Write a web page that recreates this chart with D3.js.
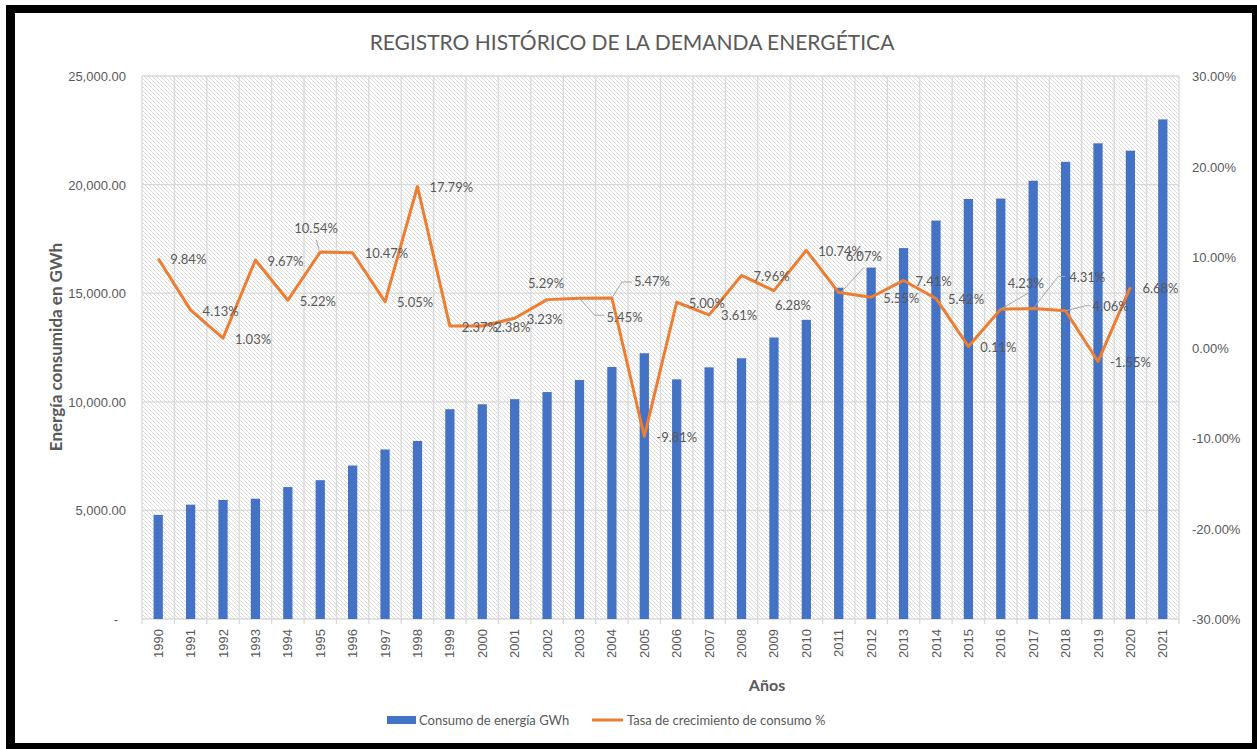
<!DOCTYPE html>
<html>
<head>
<meta charset="utf-8">
<script src="https://cdn.jsdelivr.net/npm/d3@7"></script>
<style>
  body { margin: 0; background: #fff; }
  svg { display: block; font-family: Lato, "Open Sans", sans-serif; }
</style>
</head>
<body>
<div id="chart"></div>
<script>
// Energy demand: bars = consumption (GWh), line = growth rate (%)
const years = ['1990','1991','1992','1993','1994','1995','1996','1997','1998','1999',
  '2000','2001','2002','2003','2004','2005','2006','2007','2008','2009',
  '2010','2011','2012','2013','2014','2015','2016','2017','2018','2019','2020','2021'];

const consumo = [4793, 5264, 5482, 5538, 6074, 6391, 7065, 7805, 8198, 9657,
  9886, 10121, 10449, 11002, 11601, 12235, 11035, 11587, 12005, 12960,
  13774, 15253, 16179, 17077, 18343, 19337, 19358, 20177, 21047, 21901, 21561, 23001];

// growth rate, one value per year from 1990 to 2020
const tasa = [9.84, 4.13, 1.03, 9.67, 5.22, 10.54, 10.47, 5.05, 17.79, 2.37,
  2.38, 3.23, 5.29, 5.45, 5.47, -9.81, 5.00, 3.61, 7.96, 6.28,
  10.74, 6.07, 5.55, 7.41, 5.42, 0.11, 4.23, 4.31, 4.06, -1.55, 6.68];

const leftTicks = [0, 5000, 10000, 15000, 20000, 25000];
const rightTicks = [-0.3, -0.2, -0.1, 0, 0.1, 0.2, 0.3];

const W = 1257, H = 749;
const plot = { left: 142, right: 1179, top: 76, bottom: 619 };
const textColor = '#595959';
const gridColor = '#D9D9D9';

const svg = d3.select('#chart').append('svg')
  .attr('width', W).attr('height', H);

// hatched plot background
const defs = svg.append('defs');
const pat = defs.append('pattern')
  .attr('id', 'hatch')
  .attr('patternUnits', 'userSpaceOnUse')
  .attr('width', 4).attr('height', 4);
pat.append('rect').attr('width', 4).attr('height', 4).attr('fill', '#fff');
pat.append('path')
  .attr('d', 'M-1,-1 L5,5 M-1,3 L1,5 M3,-1 L5,1')
  .attr('stroke', '#DADADA').attr('stroke-width', 1);

// frame
svg.append('rect').attr('width', W).attr('height', H).attr('fill', '#fff');
svg.append('rect').attr('x', 6).attr('y', 5).attr('width', W - 6).attr('height', H - 5).attr('fill', '#000');
svg.append('rect').attr('x', 15).attr('y', 13).attr('width', 1252 - 15).attr('height', 743 - 13).attr('fill', '#fff');

const x = d3.scaleBand().domain(years).range([plot.left, plot.right]).padding(0);
const yL = d3.scaleLinear().domain([0, 25000]).range([plot.bottom, plot.top]);
const yR = d3.scaleLinear().domain([-0.3, 0.3]).range([plot.bottom, plot.top]);

const locale = d3.formatLocale({ decimal: '.', thousands: ',', grouping: [3], currency: ['', ''], minus: '-' });
const fmtL = locale.format(',.2f');
const fmtPct = locale.format('.2%');

svg.append('rect')
  .attr('x', plot.left).attr('y', plot.top)
  .attr('width', plot.right - plot.left).attr('height', plot.bottom - plot.top)
  .attr('fill', 'url(#hatch)');

// gridlines
const grid = svg.append('g').attr('stroke', gridColor).attr('stroke-width', 1.3);
grid.selectAll('.hg').data(leftTicks).enter().append('line')
  .attr('x1', plot.left).attr('x2', plot.right)
  .attr('y1', d => yL(d)).attr('y2', d => yL(d));
const bounds = years.map(d => x(d)).concat([plot.right]);
grid.selectAll('.vg').data(bounds).enter().append('line')
  .attr('x1', d => d).attr('x2', d => d)
  .attr('y1', plot.top).attr('y2', plot.bottom + 5);

// left axis
const axL = svg.append('g')
  .attr('transform', `translate(${plot.left - 16},0)`)
  .call(d3.axisLeft(yL).tickValues(leftTicks).tickSize(0).tickPadding(0)
    .tickFormat(d => d === 0 ? '-' : fmtL(d)));
axL.select('.domain').remove();
axL.selectAll('text').attr('fill', textColor).style('font-size', '13px')
  .attr('dx', d => d === 0 ? -8 : 0).attr('dy', '0.35em');

// right axis
const axR = svg.append('g')
  .attr('transform', `translate(${plot.right + 13},0)`)
  .call(d3.axisRight(yR).tickValues(rightTicks).tickSize(0).tickPadding(0).tickFormat(fmtPct));
axR.select('.domain').remove();
axR.selectAll('text').attr('fill', textColor).style('font-size', '13px').attr('dy', '0.35em');

// bottom axis labels
const axB = svg.append('g')
  .attr('transform', `translate(0,${plot.bottom})`)
  .call(d3.axisBottom(x).tickSize(0).tickPadding(0));
axB.select('.domain').remove();
axB.selectAll('text')
  .attr('fill', textColor).style('font-size', '13px')
  .attr('text-anchor', 'end')
  .attr('transform', 'translate(0,10) rotate(-90)')
  .attr('x', 0).attr('y', 0).attr('dy', '0.35em');

// bars
const barW = x.bandwidth() / 3.5;
svg.append('g').selectAll('rect').data(consumo).enter().append('rect')
  .attr('x', (d, i) => x(years[i]) + x.bandwidth() / 2 - barW / 2)
  .attr('y', d => yL(d))
  .attr('width', barW)
  .attr('height', d => yL(0) - yL(d))
  .attr('fill', '#4472C4');

// growth line
const cx = i => x(years[i]) + x.bandwidth() / 2;
const line = d3.line().x((d, i) => cx(i)).y(d => yR(d / 100));
svg.append('path').datum(tasa)
  .attr('d', line)
  .attr('fill', 'none')
  .attr('stroke', '#ED7D31')
  .attr('stroke-width', 3)
  .attr('stroke-linejoin', 'round');

// data labels: default to the right of the point, a few moved by hand
const nudge = {
  '1995': { dx: -26, dy: -24, leader: [[-1, -2], [-4, -12]] },
  '2002': { dx: -19, dy: -16 },
  '2003': { dx: 27, dy: 19, leader: [[0, 0], [15, 17], [25, 17]] },
  '2004': { dx: 22, dy: -17, leader: [[0, 0], [10, -16], [20, -16]] },
  '2009': { dx: 1, dy: 15 },
  '2011': { dx: 7, dy: -36, leader: [[3, -1], [25, -25]] },
  '2016': { dx: 7, dy: -26, leader: [[0, 0], [27, -16]] },
  '2017': { dx: 36, dy: -31, leader: [[0, 0], [25, -32], [32, -32]] },
  '2018': { dx: 27, dy: -4, leader: [[0, 0], [20, -5], [25, -5]] }
};

const labels = svg.append('g');
tasa.forEach((d, i) => {
  const px = cx(i), py = yR(d / 100);
  const n = nudge[years[i]] || { dx: 12, dy: 1 };
  if (n.leader) {
    labels.append('path')
      .attr('d', d3.line()(n.leader.map(p => [px + p[0], py + p[1]])))
      .attr('fill', 'none').attr('stroke', '#A6A6A6').attr('stroke-width', 1);
  }
  labels.append('text')
    .attr('x', px + n.dx).attr('y', py + n.dy)
    .attr('dy', '0.35em')
    .attr('fill', textColor).style('font-size', '13px')
    .text(fmtPct(d / 100));
});

// titles
svg.append('text')
  .attr('x', 632).attr('y', 43).attr('dy', '0.35em')
  .attr('text-anchor', 'middle')
  .attr('fill', textColor).style('font-size', '21px')
  .text('REGISTRO HISTÓRICO DE LA DEMANDA ENERGÉTICA');

svg.append('text')
  .attr('transform', 'translate(56,347) rotate(-90)')
  .attr('text-anchor', 'middle').attr('dy', '0.35em')
  .attr('fill', textColor).style('font-size', '17px').style('font-weight', 'bold')
  .text('Energía consumida en GWh');

svg.append('text')
  .attr('x', 767).attr('y', 685).attr('dy', '0.35em')
  .attr('text-anchor', 'middle')
  .attr('fill', textColor).style('font-size', '16px').style('font-weight', 'bold')
  .text('Años');

// legend
const lg = svg.append('g').style('font-size', '13px').attr('fill', textColor);
lg.append('rect').attr('x', 387).attr('y', 716).attr('width', 29).attr('height', 8).attr('fill', '#4472C4');
lg.append('text').attr('x', 419).attr('y', 720).attr('dy', '0.35em').text('Consumo de energía GWh');
lg.append('line').attr('x1', 592).attr('x2', 623).attr('y1', 720).attr('y2', 720)
  .attr('stroke', '#ED7D31').attr('stroke-width', 3);
lg.append('text').attr('x', 627).attr('y', 720).attr('dy', '0.35em').text('Tasa de crecimiento de consumo %');
</script>
</body>
</html>
